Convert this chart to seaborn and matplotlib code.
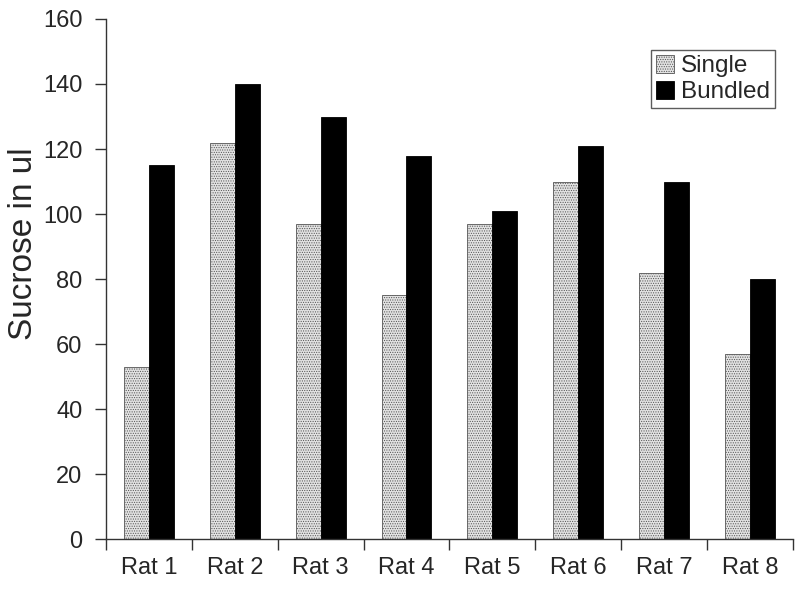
import pandas as pd
import matplotlib
matplotlib.use("Agg")
import matplotlib.pyplot as plt
import seaborn as sns

# Data
rats = ['Rat 1', 'Rat 2', 'Rat 3', 'Rat 4', 'Rat 5', 'Rat 6', 'Rat 7', 'Rat 8']
single = [53, 122, 97, 75, 97, 110, 82, 57]
bundled = [115, 140, 130, 118, 101, 121, 110, 80]

df = pd.DataFrame({
    'rat': rats * 2,
    'value': single + bundled,
    'kind': ['Single'] * len(rats) + ['Bundled'] * len(rats),
})

sns.set_style('ticks')
plt.rcParams['font.family'] = ['Liberation Sans', 'DejaVu Sans']
plt.rcParams['hatch.linewidth'] = 0.5

fig, ax = plt.subplots(figsize=(8, 5.92), dpi=100)
fig.subplots_adjust(left=0.1325, right=0.991, bottom=0.089, top=0.968)

sns.barplot(data=df, x='rat', y='value', hue='kind', order=rats,
            hue_order=['Single', 'Bundled'],
            palette={'Single': '#e2e2e2', 'Bundled': 'black'},
            saturation=1, width=0.58, legend=False, ax=ax)

for bar in ax.containers[0]:
    bar.set_hatch('.......')
    bar.set_edgecolor('#555555')
    bar.set_linewidth(0.6)
for bar in ax.containers[1]:
    bar.set_edgecolor('black')
    bar.set_linewidth(0.6)

ax.set_xlim(-0.5, len(rats) - 0.5)
ax.set_ylim(0, 160)
ax.set_yticks(range(0, 161, 20))
ax.set_xticks(range(len(rats)))
ax.set_xticklabels(rats)
ax.set_xticks([i - 0.5 for i in range(len(rats) + 1)], minor=True)
ax.tick_params(axis='x', which='major', length=0, pad=13, labelsize=17)
ax.tick_params(axis='x', which='minor', length=8, width=1, color='#333333', direction='out')
ax.tick_params(axis='y', length=8, width=1, color='#333333', labelsize=17, pad=9)

ax.set_xlabel('')
ax.set_ylabel('Sucrose in ul', fontsize=24)
ax.yaxis.set_label_coords(-0.098, 0.568)

sns.despine(ax=ax)
for s in ['left', 'bottom']:
    ax.spines[s].set_color('#333333')
    ax.spines[s].set_linewidth(1)

handles = [ax.containers[0][0], ax.containers[1][0]]
leg = ax.legend(handles, ['Single', 'Bundled'], loc='upper right',
                bbox_to_anchor=(0.974, 0.94), fontsize=17.5, frameon=True,
                fancybox=False, shadow=False, handlelength=0.75, handleheight=0.75,
                handletextpad=0.3, borderpad=0.2, labelspacing=0.15, borderaxespad=0)
leg.get_frame().set_edgecolor('#333333')
leg.get_frame().set_linewidth(1)

fig.savefig('out.png', dpi=100)
